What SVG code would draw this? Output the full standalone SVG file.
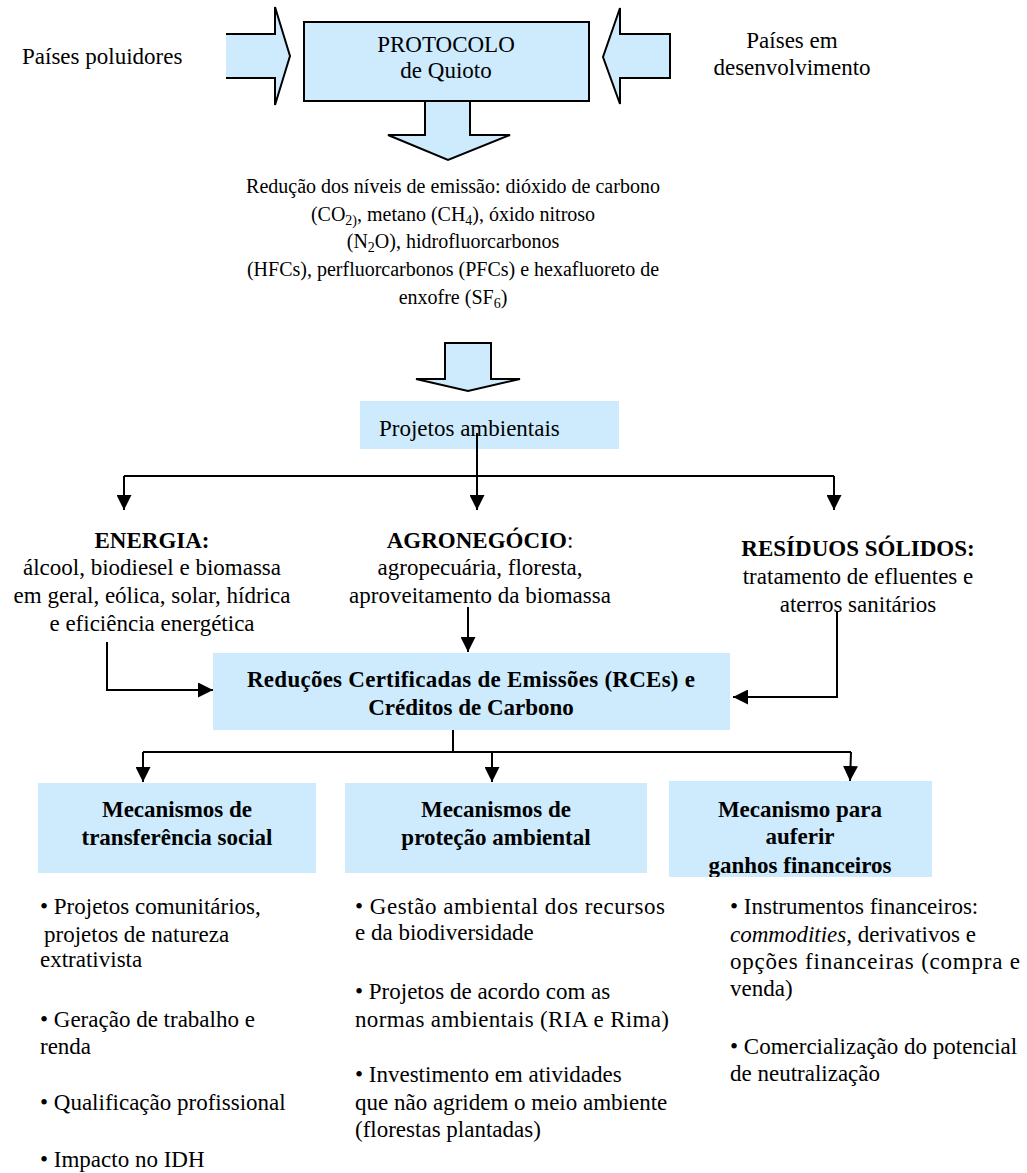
<svg xmlns="http://www.w3.org/2000/svg" width="1027" height="1173" viewBox="0 0 1027 1173" font-family="'Liberation Serif', Tinos, 'Times New Roman', Times, 'Nimbus Roman', 'DejaVu Serif', serif">
  <style>
    text { font-family: 'Liberation Serif', Tinos, 'Times New Roman', Times, 'Nimbus Roman', 'DejaVu Serif', serif; fill: #000; }
    .t { font-size: 23px; }
    .s { font-size: 20px; }
    .b { font-size: 23px; font-weight: bold; }
    .c { text-anchor: middle; }
    .box { fill: #cdebfd; }
    .boxs { fill: #cdebfd; stroke: #000; stroke-width: 2; }
    .blk { fill: #cdebfd; stroke: #000; stroke-width: 2; stroke-linejoin: miter; }
    .ln { fill: none; stroke: #000; stroke-width: 2; }
    .arr { fill: none; stroke: #000; stroke-width: 2; marker-end: url(#tip); }
  </style>
  <defs>
    <marker id="tip" markerUnits="userSpaceOnUse" markerWidth="16" markerHeight="15" viewBox="0 0 16 15" refX="15" refY="7.5" orient="auto">
      <path d="M0,0 L15,7.5 L0,15 Z" fill="#000"/>
    </marker>
    <clipPath id="clip-b3">
      <rect x="669" y="781" width="263" height="96"/>
    </clipPath>
  </defs>

  <!-- Top: protocol and the two groups of countries -->
  <g id="paises-poluidores">
    <text class="t" x="22" y="64">Países poluidores</text>
    <polygon points="226,34 275,34 275,7 290,56 275,105 275,78 226,78" fill="#cdebfd"/>
    <polyline class="ln" points="226,34 275,34 275,7 290,56 275,105 275,78 226,78"/>
  </g>

  <g id="protocolo">
    <polygon class="blk" points="425,101 470,101 470,135 510,135 448,160 388,135 425,135"/>
    <rect class="boxs" x="304" y="22" width="285" height="79"/>
    <text class="t c" x="446" y="52">PROTOCOLO</text>
    <text class="t c" x="446" y="78">de Quioto</text>
  </g>

  <g id="paises-desenvolvimento">
    <polygon class="blk" points="670,34 620,34 620,8 603,57 620,104 620,78 670,78"/>
    <text class="t c" x="792" y="48">Países em</text>
    <text class="t c" x="792" y="75">desenvolvimento</text>
  </g>

  <!-- Emission targets -->
  <g id="reducao">
    <text class="s c" x="453" y="193">Redução dos níveis de emissão: dióxido de carbono</text>
    <text class="s c" x="453" y="221">(CO<tspan font-size="14" dy="4">2)</tspan><tspan dy="-4">, metano (CH</tspan><tspan font-size="14" dy="4">4</tspan><tspan dy="-4">), óxido nitroso</tspan></text>
    <text class="s c" x="453" y="248">(N<tspan font-size="14" dy="4">2</tspan><tspan dy="-4">O), hidrofluorcarbonos</tspan></text>
    <text class="s c" x="453" y="276">(HFCs), perfluorcarbonos (PFCs) e hexafluoreto de</text>
    <text class="s c" x="453" y="304">enxofre (SF<tspan font-size="14" dy="4">6</tspan><tspan dy="-4">)</tspan></text>
    <polygon class="blk" points="445,343 491,343 491,379 520,379 468,391 416,379 445,379"/>
  </g>

  <g id="projetos">
    <rect class="box" x="360" y="401" width="259" height="48"/>
    <text class="t" x="379" y="436">Projetos ambientais</text>
  </g>

  <!-- Project areas -->
  <g id="energia">
    <text class="b c" x="152" y="548">ENERGIA:</text>
    <text class="t c" x="152" y="575">álcool, biodiesel  e biomassa</text>
    <text class="t c" x="152" y="603">em geral, eólica, solar, hídrica</text>
    <text class="t c" x="152" y="631">e eficiência  energética</text>
  </g>

  <g id="agronegocio">
    <text class="t c" x="480" y="548"><tspan font-weight="bold">AGRONEGÓCIO</tspan>:</text>
    <text class="t c" x="480" y="575">agropecuária, floresta,</text>
    <text class="t c" x="480" y="603">aproveitamento  da biomassa</text>
  </g>

  <g id="residuos">
    <text class="b c" x="858" y="556">RESÍDUOS SÓLIDOS:</text>
    <text class="t c" x="858" y="584">tratamento de efluentes e</text>
    <text class="t c" x="858" y="612">aterros sanitários</text>
  </g>

  <g id="rce">
    <rect class="box" x="213" y="653" width="517" height="77"/>
    <text class="b c" x="471" y="687" textLength="448" lengthAdjust="spacing">Reduções Certificadas de Emissões (RCEs) e</text>
    <text class="b c" x="471" y="715">Créditos de Carbono</text>
  </g>

  <!-- Mechanisms -->
  <g id="mecanismo-social">
    <rect class="box" x="38" y="783" width="278" height="90"/>
    <text class="b c" x="177" y="817">Mecanismos de</text>
    <text class="b c" x="177" y="845">transferência social</text>
  </g>

  <g id="mecanismo-ambiental">
    <rect class="box" x="345" y="783" width="302" height="90"/>
    <text class="b c" x="496" y="817">Mecanismos de</text>
    <text class="b c" x="496" y="845">proteção ambiental</text>
  </g>

  <g id="mecanismo-financeiro">
    <rect class="box" x="669" y="781" width="263" height="96"/>
    <g clip-path="url(#clip-b3)">
      <text class="b c" x="800" y="817">Mecanismo para</text>
      <text class="b c" x="800" y="844">auferir</text>
      <text class="b c" x="800" y="873">ganhos financeiros</text>
    </g>
  </g>

  <!-- Bullet lists under each mechanism -->
  <g id="lista-social">
    <text class="t" x="40" y="914">• Projetos comunitários,</text>
    <text class="t" x="44" y="942">projetos de natureza</text>
    <text class="t" x="40" y="967">extrativista</text>
    <text class="t" x="40" y="1027">• Geração de trabalho e</text>
    <text class="t" x="40" y="1054">renda</text>
    <text class="t" x="40" y="1110">• Qualificação  profissional</text>
    <text class="t" x="40" y="1167">• Impacto no IDH</text>
  </g>

  <g id="lista-ambiental">
    <text class="t" x="355" y="914" textLength="310" lengthAdjust="spacing">• Gestão ambiental  dos recursos</text>
    <text class="t" x="355" y="940">e da biodiversidade</text>
    <text class="t" x="355" y="999">• Projetos de acordo com as</text>
    <text class="t" x="355" y="1027" textLength="314" lengthAdjust="spacing">normas ambientais  (RIA e  Rima)</text>
    <text class="t" x="355" y="1082">• Investimento  em atividades</text>
    <text class="t" x="355" y="1110">que não agridem o meio ambiente</text>
    <text class="t" x="355" y="1137">(florestas plantadas)</text>
  </g>

  <g id="lista-financeira">
    <text class="t" x="730" y="914">• Instrumentos  financeiros:</text>
    <text class="t" x="730" y="942"><tspan font-style="italic">commodities</tspan>, derivativos  e</text>
    <text class="t" x="730" y="969" textLength="290" lengthAdjust="spacing">opções financeiras  (compra e</text>
    <text class="t" x="730" y="996">venda)</text>
    <text class="t" x="730" y="1054">• Comercialização  do potencial</text>
    <text class="t" x="730" y="1081">de neutralização</text>
  </g>

  <!-- Connectors -->
  <g id="conectores">
    <line class="arr" x1="477" y1="433" x2="477" y2="510"/>
    <polyline class="ln" points="124,476 834,476"/>
    <line class="arr" x1="124" y1="476" x2="124" y2="510"/>
    <line class="arr" x1="834" y1="476" x2="834" y2="510"/>

    <line class="arr" x1="468" y1="607" x2="468" y2="652"/>
    <polyline class="arr" points="107,642 107,690 213,690"/>
    <polyline class="arr" points="837,612 837,697 733,697"/>

    <line class="ln" x1="453" y1="730" x2="453" y2="752"/>
    <polyline class="ln" points="143,752 851,752"/>
    <line class="arr" x1="143" y1="752" x2="143" y2="782"/>
    <line class="arr" x1="492" y1="752" x2="492" y2="782"/>
    <line class="arr" x1="851" y1="752" x2="850" y2="781"/>
  </g>
</svg>
